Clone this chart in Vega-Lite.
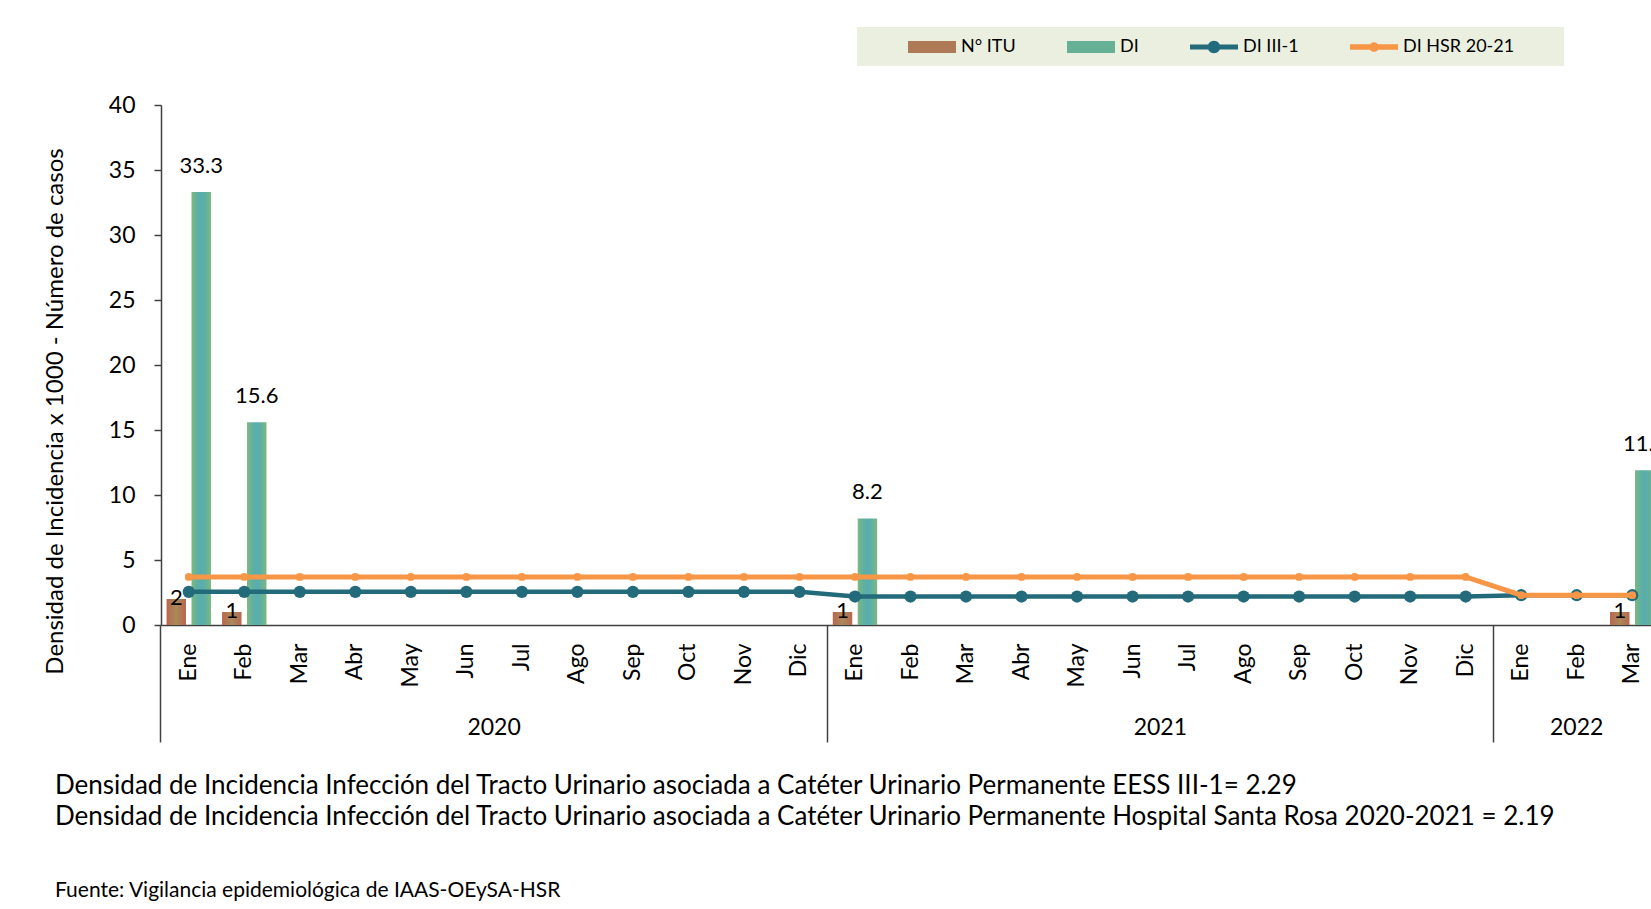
{
  "$schema": "https://vega.github.io/schema/vega-lite/v6.json",
  "width": 1490,
  "height": 520,
  "autosize": {"type": "none"},
  "padding": {"left": 161, "top": 105, "right": 0, "bottom": 284},
  "background": "white",
  "config": {
    "view": {"stroke": null},
    "font": "Lato",
    "axis": {"labelFont": "Lato", "titleFont": "Lato", "labelColor": "#000000", "titleColor": "#000000", "grid": false},
    "text": {"font": "Lato"}
  },
  "datasets": {
    "barras": [
      {"mes": "Ene 2020", "serie": "N° ITU", "valor": 2},
      {"mes": "Ene 2020", "serie": "DI", "valor": 33.3},
      {"mes": "Feb 2020", "serie": "N° ITU", "valor": 1},
      {"mes": "Feb 2020", "serie": "DI", "valor": 15.6},
      {"mes": "Ene 2021", "serie": "N° ITU", "valor": 1},
      {"mes": "Ene 2021", "serie": "DI", "valor": 8.2},
      {"mes": "Mar 2022", "serie": "N° ITU", "valor": 1},
      {"mes": "Mar 2022", "serie": "DI", "valor": 11.9}
    ],
    "lineas": [
      {"mes": "Ene 2020", "serie": "DI III-1", "valor": 2.55},
      {"mes": "Feb 2020", "serie": "DI III-1", "valor": 2.55},
      {"mes": "Mar 2020", "serie": "DI III-1", "valor": 2.55},
      {"mes": "Abr 2020", "serie": "DI III-1", "valor": 2.55},
      {"mes": "May 2020", "serie": "DI III-1", "valor": 2.55},
      {"mes": "Jun 2020", "serie": "DI III-1", "valor": 2.55},
      {"mes": "Jul 2020", "serie": "DI III-1", "valor": 2.55},
      {"mes": "Ago 2020", "serie": "DI III-1", "valor": 2.55},
      {"mes": "Sep 2020", "serie": "DI III-1", "valor": 2.55},
      {"mes": "Oct 2020", "serie": "DI III-1", "valor": 2.55},
      {"mes": "Nov 2020", "serie": "DI III-1", "valor": 2.55},
      {"mes": "Dic 2020", "serie": "DI III-1", "valor": 2.55},
      {"mes": "Ene 2021", "serie": "DI III-1", "valor": 2.19},
      {"mes": "Feb 2021", "serie": "DI III-1", "valor": 2.19},
      {"mes": "Mar 2021", "serie": "DI III-1", "valor": 2.19},
      {"mes": "Abr 2021", "serie": "DI III-1", "valor": 2.19},
      {"mes": "May 2021", "serie": "DI III-1", "valor": 2.19},
      {"mes": "Jun 2021", "serie": "DI III-1", "valor": 2.19},
      {"mes": "Jul 2021", "serie": "DI III-1", "valor": 2.19},
      {"mes": "Ago 2021", "serie": "DI III-1", "valor": 2.19},
      {"mes": "Sep 2021", "serie": "DI III-1", "valor": 2.19},
      {"mes": "Oct 2021", "serie": "DI III-1", "valor": 2.19},
      {"mes": "Nov 2021", "serie": "DI III-1", "valor": 2.19},
      {"mes": "Dic 2021", "serie": "DI III-1", "valor": 2.19},
      {"mes": "Ene 2022", "serie": "DI III-1", "valor": 2.29},
      {"mes": "Feb 2022", "serie": "DI III-1", "valor": 2.29},
      {"mes": "Mar 2022", "serie": "DI III-1", "valor": 2.29},
      {"mes": "Ene 2020", "serie": "DI HSR 20-21", "valor": 3.7},
      {"mes": "Feb 2020", "serie": "DI HSR 20-21", "valor": 3.7},
      {"mes": "Mar 2020", "serie": "DI HSR 20-21", "valor": 3.7},
      {"mes": "Abr 2020", "serie": "DI HSR 20-21", "valor": 3.7},
      {"mes": "May 2020", "serie": "DI HSR 20-21", "valor": 3.7},
      {"mes": "Jun 2020", "serie": "DI HSR 20-21", "valor": 3.7},
      {"mes": "Jul 2020", "serie": "DI HSR 20-21", "valor": 3.7},
      {"mes": "Ago 2020", "serie": "DI HSR 20-21", "valor": 3.7},
      {"mes": "Sep 2020", "serie": "DI HSR 20-21", "valor": 3.7},
      {"mes": "Oct 2020", "serie": "DI HSR 20-21", "valor": 3.7},
      {"mes": "Nov 2020", "serie": "DI HSR 20-21", "valor": 3.7},
      {"mes": "Dic 2020", "serie": "DI HSR 20-21", "valor": 3.7},
      {"mes": "Ene 2021", "serie": "DI HSR 20-21", "valor": 3.7},
      {"mes": "Feb 2021", "serie": "DI HSR 20-21", "valor": 3.7},
      {"mes": "Mar 2021", "serie": "DI HSR 20-21", "valor": 3.7},
      {"mes": "Abr 2021", "serie": "DI HSR 20-21", "valor": 3.7},
      {"mes": "May 2021", "serie": "DI HSR 20-21", "valor": 3.7},
      {"mes": "Jun 2021", "serie": "DI HSR 20-21", "valor": 3.7},
      {"mes": "Jul 2021", "serie": "DI HSR 20-21", "valor": 3.7},
      {"mes": "Ago 2021", "serie": "DI HSR 20-21", "valor": 3.7},
      {"mes": "Sep 2021", "serie": "DI HSR 20-21", "valor": 3.7},
      {"mes": "Oct 2021", "serie": "DI HSR 20-21", "valor": 3.7},
      {"mes": "Nov 2021", "serie": "DI HSR 20-21", "valor": 3.7},
      {"mes": "Dic 2021", "serie": "DI HSR 20-21", "valor": 3.7},
      {"mes": "Ene 2022", "serie": "DI HSR 20-21", "valor": 2.29},
      {"mes": "Feb 2022", "serie": "DI HSR 20-21", "valor": 2.29},
      {"mes": "Mar 2022", "serie": "DI HSR 20-21", "valor": 2.29}
    ]
  },
  "title": {
    "text": [
      "Densidad de Incidencia Infección del  Tracto Urinario asociada a Catéter Urinario Permanente  EESS III-1= 2.29",
      "Densidad de Incidencia Infección del  Tracto Urinario asociada a Catéter Urinario Permanente  Hospital Santa Rosa 2020-2021  = 2.19"
    ],
    "subtitle": "Fuente: Vigilancia epidemiológica de IAAS-OEySA-HSR",
    "orient": "bottom",
    "anchor": "start",
    "frame": "group",
    "dx": -106,
    "offset": 30,
    "font": "Lato",
    "fontSize": 26,
    "fontWeight": "normal",
    "color": "#000000",
    "lineHeight": 31,
    "subtitleFont": "Lato",
    "subtitleFontSize": 21,
    "subtitleColor": "#000000",
    "subtitlePadding": 50
  },
  "layer": [
    {
      "data": {"name": "barras"},
      "mark": {"type": "bar"},
      "encoding": {
        "x": {
          "field": "mes",
          "type": "nominal",
          "scale": {
            "type": "band",
            "domain": ["Ene 2020", "Feb 2020", "Mar 2020", "Abr 2020", "May 2020", "Jun 2020", "Jul 2020", "Ago 2020", "Sep 2020", "Oct 2020", "Nov 2020", "Dic 2020", "Ene 2021", "Feb 2021", "Mar 2021", "Abr 2021", "May 2021", "Jun 2021", "Jul 2021", "Ago 2021", "Sep 2021", "Oct 2021", "Nov 2021", "Dic 2021", "Ene 2022", "Feb 2022", "Mar 2022"],
            "range": [0, 1499],
            "paddingInner": 0.2,
            "paddingOuter": 0.1
          },
          "axis": {
            "orient": "bottom",
            "title": null,
            "labelAngle": -90,
            "labelExpr": "split(datum.value, ' ')[0]",
            "ticks": false,
            "tickSize": 0,
            "labelPadding": 18,
            "labelFontSize": 23,
            "domainColor": "#404040",
            "domainWidth": 1.5
          }
        },
        "xOffset": {
          "field": "serie",
          "type": "nominal",
          "scale": {"domain": ["N° ITU", "DI"], "paddingInner": 0.22, "paddingOuter": 0}
        },
        "y": {
          "field": "valor",
          "type": "quantitative",
          "scale": {"domain": [0, 40], "nice": false},
          "axis": {
            "title": "Densidad de Incidencia x 1000 - Número de casos",
            "values": [0, 5, 10, 15, 20, 25, 30, 35, 40],
            "tickSize": 7,
            "tickColor": "#404040",
            "tickWidth": 1.5,
            "domainColor": "#404040",
            "domainWidth": 1.5,
            "labelPadding": 19,
            "labelFontSize": 23,
            "titleFontSize": 24,
            "titleFontWeight": "normal",
            "titleX": -106,
            "titleY": 306,
            "titleBaseline": "middle",
            "titleAngle": -90
          }
        },
        "fill": {
          "condition": {
            "test": "datum.serie === 'DI'",
            "value": {"gradient": "linear", "x1": 0, "x2": 1, "y1": 0, "y2": 0, "stops": [
              {"offset": 0, "color": "#7cb97c"},
              {"offset": 0.3, "color": "#5fafa4"},
              {"offset": 0.5, "color": "#58adae"},
              {"offset": 0.7, "color": "#5fafa4"},
              {"offset": 1, "color": "#7cb97c"}
            ]}
          },
          "value": {"gradient": "linear", "x1": 0, "x2": 1, "y1": 0, "y2": 0, "stops": [
            {"offset": 0, "color": "#b9664f"},
            {"offset": 0.5, "color": "#a88a5a"},
            {"offset": 1, "color": "#b9664f"}
          ]}
        }
      }
    },
    {
      "data": {"name": "barras"},
      "transform": [{"filter": "datum.serie === 'N° ITU'"}],
      "mark": {"type": "text", "fontSize": 22, "color": "#000000", "baseline": "middle", "dy": -1},
      "encoding": {
        "x": {
          "field": "mes",
          "type": "nominal",
          "axis": {
            "orient": "bottom",
            "values": ["Ene 2020", "Ene 2021", "Ene 2022"],
            "bandPosition": -0.125,
            "ticks": true,
            "tickSize": 117,
            "tickColor": "#404040",
            "tickWidth": 1.5,
            "labels": false,
            "domain": false,
            "title": null
          }
        },
        "xOffset": {"field": "serie", "type": "nominal"},
        "y": {"field": "valor", "type": "quantitative"},
        "text": {"field": "valor", "type": "quantitative"}
      }
    },
    {
      "data": {"name": "barras"},
      "transform": [{"filter": "datum.serie === 'DI'"}],
      "mark": {"type": "text", "fontSize": 22, "color": "#000000", "baseline": "middle", "dy": -26},
      "encoding": {
        "x": {
          "field": "mes",
          "type": "nominal",
          "axis": {
            "orient": "bottom",
            "values": ["Jul 2020", "Jul 2021"],
            "ticks": false,
            "tickSize": 0,
            "labelOffset": -27.75,
            "labelPadding": 91,
            "labelAngle": 0,
            "labelFontSize": 23,
            "labelExpr": "split(datum.value, ' ')[1]",
            "domain": false,
            "title": null
          }
        },
        "xOffset": {"field": "serie", "type": "nominal"},
        "y": {"field": "valor", "type": "quantitative"},
        "text": {"field": "valor", "type": "quantitative"}
      }
    },
    {
      "data": {"name": "lineas"},
      "transform": [{"filter": "datum.serie === 'DI III-1'"}],
      "mark": {"type": "line", "color": "#236b7b", "strokeWidth": 4.5, "point": {"filled": true, "size": 150, "color": "#236b7b"}},
      "encoding": {
        "x": {
          "field": "mes",
          "type": "nominal",
          "axis": {
            "orient": "bottom",
            "values": ["Feb 2022"],
            "ticks": false,
            "tickSize": 0,
            "labelPadding": 91,
            "labelAngle": 0,
            "labelFontSize": 23,
            "labelExpr": "split(datum.value, ' ')[1]",
            "domain": false,
            "title": null
          }
        },
        "y": {"field": "valor", "type": "quantitative"}
      }
    },
    {
      "data": {"name": "lineas"},
      "transform": [{"filter": "datum.serie === 'DI HSR 20-21'"}],
      "mark": {"type": "line", "color": "#f79646", "strokeWidth": 5, "point": {"filled": true, "size": 60, "color": "#f79646"}},
      "encoding": {
        "x": {"field": "mes", "type": "nominal", "axis": null},
        "y": {"field": "valor", "type": "quantitative"}
      }
    },
    {
      "data": {"name": "lineas"},
      "mark": {"type": "point", "filled": true, "opacity": 0},
      "encoding": {
        "x": {"field": "mes", "type": "nominal", "axis": null},
        "y": {"field": "valor", "type": "quantitative"},
        "color": {
          "field": "serie",
          "type": "nominal",
          "scale": {
            "domain": ["N° ITU", "DI", "DI III-1", "DI HSR 20-21"],
            "range": ["#ad7a55", "#66b096", "#236b7b", "#f79646"]
          },
          "legend": {
            "orient": "none",
            "legendX": 696,
            "legendY": -78,
            "direction": "horizontal",
            "title": " ",
            "titleOrient": "left",
            "titleFontSize": 18,
            "titlePadding": 41,
            "symbolSize": 2304,
            "symbolStrokeWidth": 0,
            "symbolOpacity": 1,
            "labelFont": "Lato",
            "labelFontSize": 18,
            "labelColor": "#000000",
            "labelOffset": 5,
            "columnPadding": 51,
            "rowPadding": 0,
            "padding": 10,
            "fillColor": "#ebefdf",
            "labelExpr": "datum.label == 'DI HSR 20-21' ? datum.label + '\u2800\u2800\u2800' : datum.label",
            "encode": {
              "symbols": {"update": {"opacity": {"value": 1}, "fillOpacity": {"value": 1}}},
              "labels": {"update": {"dy": {"value": -14}}}
            }
          }
        },
        "shape": {
          "field": "serie",
          "type": "nominal",
          "scale": {
            "domain": ["N° ITU", "DI", "DI III-1", "DI HSR 20-21"],
            "range": [
              "M-1,-0.833H1V-0.333H-1Z",
              "M-1,-0.833H1V-0.333H-1Z",
              "M-1,-0.683H1V-0.483H-1Z M0.26,-0.583A0.26,0.26 0 1,1 -0.26,-0.583A0.26,0.26 0 1,1 0.26,-0.583Z",
              "M-1,-0.693H1V-0.473H-1Z M0.2,-0.583A0.2,0.2 0 1,1 -0.2,-0.583A0.2,0.2 0 1,1 0.2,-0.583Z"
            ]
          },
          "legend": {
            "orient": "none",
            "legendX": 696,
            "legendY": -78,
            "direction": "horizontal",
            "title": " "
          }
        }
      }
    }
  ],
  "resolve": {"axis": {"x": "independent"}}
}
